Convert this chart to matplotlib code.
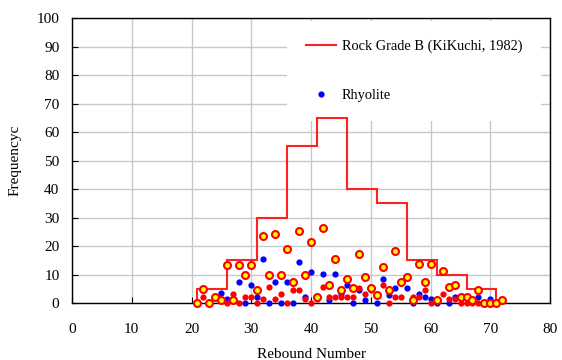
import matplotlib
matplotlib.use("Agg")
import matplotlib.pyplot as plt

plt.rcParams['font.family'] = ['Liberation Serif', 'DejaVu Serif']

# Kikuchi (1982) rock grade B distribution
bin_edges = [21, 26, 31, 36, 41, 46, 51, 56, 61, 66, 71]
grade_b = [5, 15, 30, 55, 65, 40, 35, 15, 10, 5]

# Rhyolite (blue dots)
rhy_x = [25, 26, 28, 29, 30, 31, 32, 33, 34, 35, 36, 37, 38, 39, 40, 42, 43, 44,
         45, 46, 47, 48, 49, 51, 52, 53, 54, 56, 57, 58, 59, 60, 61, 63, 64, 68, 70]
rhy_y = [3.4, 1.3, 7.4, 0, 6.5, 2.2, 15.3, 0, 7.4, 0, 7.4, 0, 14.5, 2.2, 11, 10.2, 1.2, 10.2,
         3.1, 6.5, 0, 4.5, 1.2, 0, 8.3, 3, 5.4, 5.4, 0, 3.2, 2.2, 1.3, 0, 0, 2.2, 2.2, 1.3]

# second sample (red dots)
red_x = [22, 25, 26, 27, 28, 29, 30, 31, 32, 33, 34, 35, 36, 37, 38, 39, 40, 41, 42, 43,
         44, 45, 46, 47, 48, 49, 50, 52, 53, 54, 55, 57, 58, 59, 60, 62, 63, 64, 65, 66, 67, 68]
red_y = [2.2, 1.2, 0, 3.2, 0, 2.2, 2.2, 0, 1.3, 5.5, 1.3, 3.2, 0, 4.5, 4.5, 1.3, 0, 1.3, 5.5, 2.1,
         2.1, 2.1, 2.1, 2.1, 5.4, 3.2, 4.5, 6.3, 0, 2.2, 2.2, 2.2, 2.2, 4.5, 0, 3.2, 1.3, 1.3, 0, 0, 0, 0]

# third sample (yellow circles, red edge)
yel_x = list(range(21, 73))
yel_y = [0, 5, 0, 2, 1, 13.5, 1, 13.5, 10, 13.5, 4.5, 23.5, 10, 24.3, 10, 19, 7.5, 25.3, 10, 21.5,
         2, 26.3, 6.5, 15.3, 4.5, 8.3, 5.4, 17.2, 9.2, 5.4, 3, 12.5, 4.5, 18.2, 7.4, 9.2, 1.2, 13.6,
         7.4, 13.6, 1.2, 11.1, 5.5, 6.4, 2.2, 2.2, 1.2, 4.5, 0, 0, 0, 1.2]

fig = plt.figure(figsize=(5.62, 3.6), dpi=100)
ax = fig.add_axes([0.128, 0.158, 0.851, 0.792])

ax.stairs(grade_b, bin_edges, color='#ff2020', lw=1.5, label='Rock Grade B (KiKuchi, 1982)', zorder=3)
ax.plot(rhy_x, rhy_y, 'o', color='#0000ff', ms=4.5, mec='none', label='Rhyolite', clip_on=False, zorder=4)
ax.plot(red_x, red_y, 'o', color='#ff0000', ms=4.5, mec='none', clip_on=False, zorder=5)
ax.plot(yel_x, yel_y, 'o', mfc='#ffff00', mec='#ff0000', mew=1.5, ms=5, clip_on=False, zorder=6)

ax.set_xlim(0, 80)
ax.set_ylim(0, 100)
ax.set_xticks(range(0, 81, 10))
ax.set_yticks(range(0, 101, 10))
ax.grid(True, color='#c8c8c8', lw=1)
ax.set_axisbelow(True)
ax.tick_params(direction='in', length=4, width=0.8, labelsize=11)
ax.tick_params(axis='x', pad=14)
ax.tick_params(axis='y', pad=9)
for s in ax.spines.values():
    s.set_linewidth(1)

ax.set_xlabel('Rebound Number', fontsize=11, labelpad=9)
ax.set_ylabel('Frequencyc', fontsize=11, labelpad=11)

leg = ax.legend(loc='upper left', bbox_to_anchor=(287 / 562, 1 - 21 / 360),
                bbox_transform=fig.transFigure, fontsize=10.4, frameon=True,
                fancybox=False, framealpha=1, edgecolor='none', labelspacing=2.5,
                handlelength=2.1, handletextpad=0.4, borderpad=1.3, borderaxespad=0)
# keep the box frame under the spines
leg.set_zorder(2.4)

fig.savefig('out.png', dpi=100)
